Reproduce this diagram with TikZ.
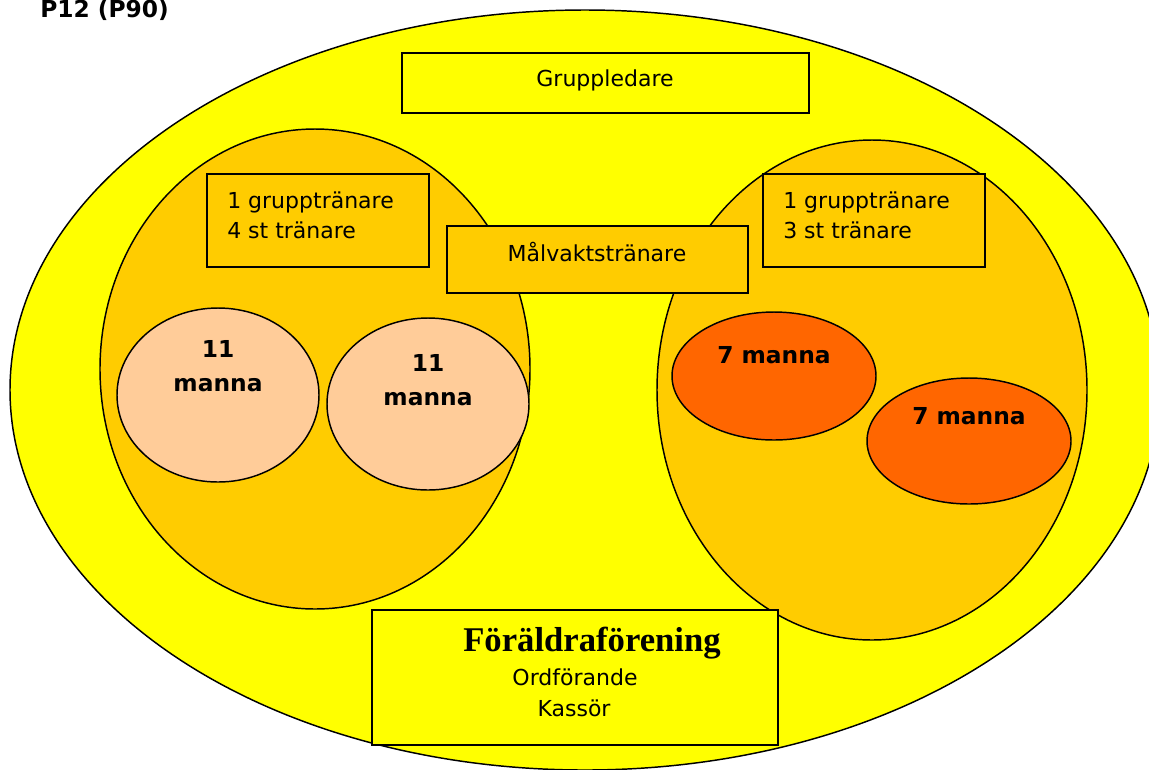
\documentclass[tikz,border=0pt]{standalone}
\usepackage{fontspec}
\setmainfont{DejaVu Sans}
\newfontfamily\titlefont{Liberation Serif}
\definecolor{clubyellow}{HTML}{FFFF00}
\definecolor{teamorange}{HTML}{FFCC00}
\definecolor{elevenpeach}{HTML}{FFCC99}
\definecolor{sevenred}{HTML}{FF6600}
\tikzset{
  edge/.style={line width=1.1pt},
  plaintext/.style={inner sep=0pt, font=\fontsize{16.5}{22.5}\selectfont},
  teamtext/.style={inner sep=0pt, align=center, font=\bfseries\fontsize{17.5}{26}\selectfont},
}
\begin{document}
\begin{tikzpicture}[x=0.75pt,y=-0.75pt]
            \useasboundingbox (0,0) rectangle (1149,769);
            \clip (0,0) rectangle (1149,769);
            \fill [white] (0,0) rectangle (1149,769);%

            % Marking title
            \draw (40,10) node (title) [anchor=west, inner sep=0pt, font=\bfseries\fontsize{17.5}{20}\selectfont] {P12 (P90)};%

            % Drawing club ellipse
            \draw [edge, fill=clubyellow] (585,390) ellipse [x radius=575, y radius=380];%

            % Drawing box Gruppledare
            \draw [edge, fill=clubyellow] (402,53) rectangle (809,113);%
            \draw (605,80) node (leader) [plaintext] {Gruppledare};%

            % Drawing team ellipses
            \draw [edge, fill=teamorange] (315,369) ellipse [x radius=215, y radius=240];%
            \draw [edge, fill=teamorange] (872,390) ellipse [x radius=215, y radius=250];%

            % Drawing coach boxes
            \draw [edge, fill=teamorange] (207,174) rectangle (429,267);%
            \draw (227,215) node (coachleft) [plaintext, anchor=west, align=left] {1 grupptränare\\4 st tränare};%
            \draw [edge, fill=teamorange] (763,174) rectangle (985,267);%
            \draw (783,215) node (coachright) [plaintext, anchor=west, align=left] {1 grupptränare\\3 st tränare};%

            % Drawing box Målvaktstränare
            \draw [edge, fill=teamorange] (447,226) rectangle (748,293);%
            \draw (597,252) node (keeper) [plaintext] {Målvaktstränare};%

            % Drawing 11 manna ellipses
            \draw [edge, fill=elevenpeach] (218,395) ellipse [x radius=101, y radius=87];%
            \draw (218,366) node (elevenA) [teamtext] {11\\manna};%
            \draw [edge, fill=elevenpeach] (428,404) ellipse [x radius=101, y radius=86];%
            \draw (428,380) node (elevenB) [teamtext] {11\\manna};%

            % Drawing 7 manna ellipses
            \draw [edge, fill=sevenred] (774,376) ellipse [x radius=102, y radius=64];%
            \draw (774,355) node (sevenA) [teamtext] {7 manna};%
            \draw [edge, fill=sevenred] (969,441) ellipse [x radius=102, y radius=63];%
            \draw (969,416) node (sevenB) [teamtext] {7 manna};%

            % Drawing box Föräldraförening
            \draw [edge, fill=clubyellow] (372,610) rectangle (778,745);%
            \draw (592,643) node (parents) [inner sep=0pt, font=\titlefont\bfseries\fontsize{26}{30}\selectfont] {Föräldraförening};%
            \draw (575,677) node (chair) [plaintext] {Ordförande};%
            \draw (574,708) node (cashier) [plaintext] {Kassör};%
        \end{tikzpicture}
\end{document}
